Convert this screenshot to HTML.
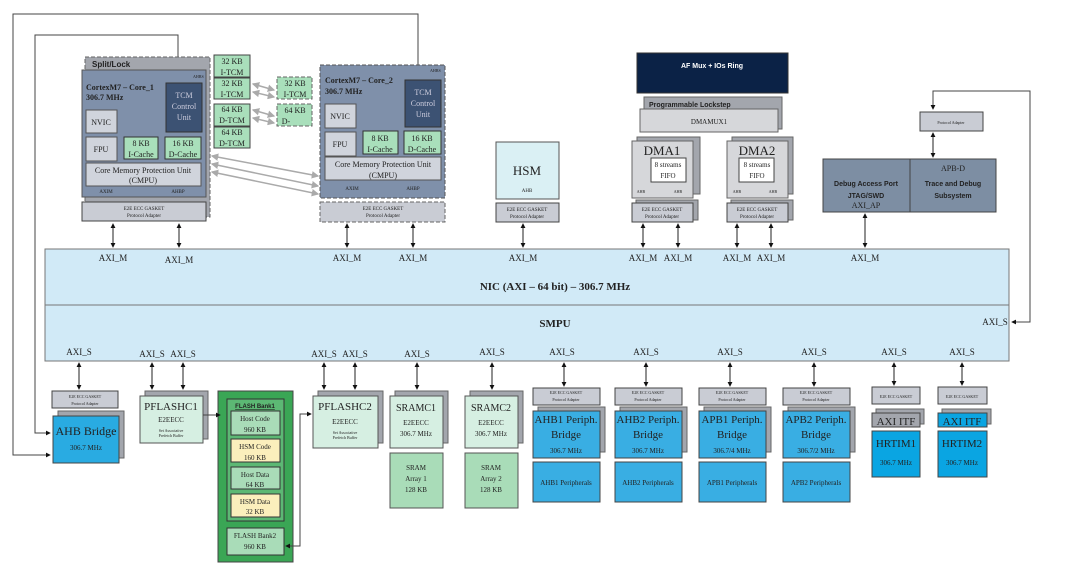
<!DOCTYPE html>
<html><head><meta charset="utf-8"><style>
html,body{margin:0;padding:0;background:#fff;width:1080px;height:576px;overflow:hidden}
svg text{font-family:"Liberation Serif",serif;fill:#222}
.s{font-family:"Liberation Sans",sans-serif !important;font-weight:bold}
</style></head><body>
<svg width="1080" height="576" viewBox="0 0 1080 576" xmlns="http://www.w3.org/2000/svg">
<defs>
<marker id="a" viewBox="0 0 6 6" refX="5" refY="3" markerWidth="5" markerHeight="5" orient="auto-start-reverse"><path d="M0,0L6,3L0,6z" fill="#111"/></marker>
<marker id="g" viewBox="0 0 6 6" refX="5" refY="3" markerWidth="5" markerHeight="5" orient="auto-start-reverse"><path d="M0,0L6,3L0,6z" fill="#aaa"/></marker>
</defs>
<g stroke="#555" stroke-width="1">
<polyline points="418,80 418,14 13,14 13,455 50,455" fill="none" marker-start="url(#a)" marker-end="url(#a)" stroke="#444"/>
<polyline points="178,81 178,35 35,35 35,433 50,433" fill="none" marker-start="url(#a)" marker-end="url(#a)" stroke="#444"/>
<polyline points="933,109 933,91 1030,91 1030,322 1012,322" fill="none" marker-start="url(#a)" marker-end="url(#a)" stroke="#444"/>

<rect x="45" y="249" width="964" height="112" fill="#d1eaf7" stroke="#777"/>
<line x1="45" y1="305" x2="1009" y2="305" stroke="#777"/>

<rect x="85" y="57" width="125" height="160" fill="#a3a6ad" stroke="#666" stroke-dasharray="4,2"/>
<rect x="82" y="70" width="124" height="127" fill="#7f90aa" stroke="#555"/>
<rect x="166" y="83" width="36" height="49" fill="#3c5273" stroke="#333"/>
<rect x="86" y="110" width="31" height="23" fill="#d0d4dc"/>
<rect x="86" y="137" width="31" height="24" fill="#d0d4dc"/>
<rect x="124" y="137" width="34" height="22" fill="#a9dfbb" stroke="#333"/>
<rect x="165" y="137" width="36" height="22" fill="#a9dfbb" stroke="#333"/>
<rect x="86" y="163" width="115" height="23" fill="#d0d4dc"/>
<rect x="82" y="202" width="124" height="19" fill="#c9ccd4" stroke="#444"/>

<rect x="214" y="55" width="36" height="22" fill="#a9dfbb" stroke="#444"/>
<rect x="214" y="78" width="36" height="21" fill="#a9dfbb" stroke="#444"/>
<rect x="214" y="104" width="36" height="22" fill="#a9dfbb" stroke="#444"/>
<rect x="214" y="127" width="36" height="21" fill="#a9dfbb" stroke="#444"/>
<rect x="277" y="77" width="35" height="22" fill="#a9dfbb" stroke="#666" stroke-dasharray="4,2"/>
<rect x="277" y="104" width="35" height="22" fill="#a9dfbb" stroke="#666" stroke-dasharray="4,2"/>
<g stroke="#aaa" stroke-width="1.5">
<line x1="253" y1="84" x2="274" y2="90" marker-start="url(#g)" marker-end="url(#g)"/>
<line x1="253" y1="92" x2="274" y2="97" marker-start="url(#g)" marker-end="url(#g)"/>
<line x1="253" y1="110" x2="274" y2="116" marker-start="url(#g)" marker-end="url(#g)"/>
<line x1="253" y1="118" x2="274" y2="123" marker-start="url(#g)" marker-end="url(#g)"/>
<line x1="212" y1="156" x2="318" y2="176" marker-start="url(#g)" marker-end="url(#g)"/>
<line x1="212" y1="164" x2="318" y2="186" marker-start="url(#g)" marker-end="url(#g)"/>
<line x1="212" y1="172" x2="318" y2="194" marker-start="url(#g)" marker-end="url(#g)"/>
</g>

<rect x="320" y="65" width="125" height="133" fill="#7f90aa" stroke="#555" stroke-dasharray="4,2"/>
<rect x="405" y="80" width="36" height="47" fill="#3c5273" stroke="#333"/>
<rect x="325" y="104" width="31" height="24" fill="#d0d4dc"/>
<rect x="325" y="132" width="31" height="24" fill="#d0d4dc"/>
<rect x="363" y="131" width="35" height="23" fill="#a9dfbb" stroke="#333"/>
<rect x="404" y="131" width="37" height="23" fill="#a9dfbb" stroke="#333"/>
<rect x="325" y="157" width="116" height="23" fill="#d0d4dc"/>
<rect x="320" y="202" width="125" height="20" fill="#c9ccd4" stroke="#666" stroke-dasharray="4,2"/>

<rect x="496" y="142" width="63" height="57" fill="#daf0f4" stroke="#555"/>
<rect x="496" y="203" width="63" height="19" fill="#c9ccd4" stroke="#444"/>

<rect x="637" y="53" width="151" height="40" fill="#0b2246" stroke="#333"/>
<rect x="644" y="97" width="138" height="32" fill="#a3a6ad" stroke="#666"/>
<rect x="640" y="109" width="138" height="23" fill="#d6d7da" stroke="#666"/>
<rect x="637" y="137" width="63" height="57" fill="#a3a6ad" stroke="#666"/>
<rect x="632" y="141" width="61" height="57" fill="#d6d7da" stroke="#666"/>
<rect x="651" y="158" width="35" height="24" fill="#fff" stroke="#444"/>
<rect x="636" y="200" width="62" height="20" fill="#a3a6ad" stroke="#666"/>
<rect x="632" y="203" width="61" height="19" fill="#c9ccd4" stroke="#444"/>
<rect x="732" y="137" width="61" height="57" fill="#a3a6ad" stroke="#666"/>
<rect x="727" y="141" width="61" height="57" fill="#d6d7da" stroke="#666"/>
<rect x="739" y="158" width="35" height="24" fill="#fff" stroke="#444"/>
<rect x="731" y="200" width="62" height="20" fill="#a3a6ad" stroke="#666"/>
<rect x="727" y="203" width="61" height="19" fill="#c9ccd4" stroke="#444"/>

<rect x="920" y="112" width="63" height="19" fill="#c9ccd4" stroke="#444"/>
<rect x="823" y="159" width="173" height="53" fill="#7d8ea3" stroke="#444"/>
<line x1="910" y1="159" x2="910" y2="212" stroke="#444"/>

<rect x="52" y="391" width="66" height="17" fill="#c9ccd4" stroke="#444"/>
<rect x="58" y="411" width="66" height="47" fill="#a3a6ad" stroke="#666"/>
<rect x="53" y="416" width="66" height="47" fill="#29abe2" stroke="#444"/>
<rect x="145" y="391" width="63" height="48" fill="#a3a6ad" stroke="#666"/>
<rect x="140" y="396" width="63" height="47" fill="#d6efe2" stroke="#555"/>
<rect x="218" y="391" width="75" height="171" fill="#3aa655" stroke="#444"/>
<rect x="227" y="399" width="57" height="122" fill="#5cb874" stroke="#333"/>
<rect x="231" y="411" width="49" height="24" fill="#a9dcb8" stroke="#333"/>
<rect x="231" y="439" width="49" height="23" fill="#fbefbc" stroke="#333"/>
<rect x="231" y="467" width="49" height="22" fill="#a9dcb8" stroke="#333"/>
<rect x="231" y="494" width="49" height="23" fill="#fbefbc" stroke="#333"/>
<rect x="227" y="528" width="57" height="27" fill="#a9dcb8" stroke="#333"/>
<polyline points="203,415 220,415" fill="none" marker-end="url(#a)" stroke="#444"/>
<polyline points="311,414 300,414 300,546 286,546" fill="none" marker-start="url(#a)" marker-end="url(#a)" stroke="#444"/>
<rect x="318" y="391" width="65" height="52" fill="#a3a6ad" stroke="#666"/>
<rect x="313" y="396" width="65" height="52" fill="#d6efe2" stroke="#555"/>
<rect x="395" y="391" width="53" height="52" fill="#a3a6ad" stroke="#666"/>
<rect x="390" y="396" width="53" height="52" fill="#d6efe2" stroke="#555"/>
<rect x="390" y="453" width="53" height="55" fill="#a9dcb8" stroke="#555"/>
<rect x="470" y="391" width="53" height="52" fill="#a3a6ad" stroke="#666"/>
<rect x="465" y="396" width="53" height="52" fill="#d6efe2" stroke="#555"/>
<rect x="465" y="453" width="53" height="55" fill="#a9dcb8" stroke="#555"/>

<g id="per">
<rect x="533" y="388" width="67" height="17" fill="#c9ccd4" stroke="#444"/>
<rect x="538" y="407" width="67" height="45" fill="#a3a6ad" stroke="#666"/>
<rect x="533" y="411" width="67" height="47" fill="#39aee3" stroke="#444"/>
<rect x="533" y="462" width="67" height="40" fill="#39aee3" stroke="#444"/>
</g>
<use href="#per" x="82"/><use href="#per" x="166"/><use href="#per" x="250"/>

<rect x="872" y="387" width="48" height="17" fill="#c9ccd4" stroke="#444"/>
<rect x="876" y="409" width="48" height="15" fill="#a3a6ad" stroke="#666"/>
<rect x="872" y="413" width="48" height="14" fill="#a3a6ad" stroke="#444"/>
<rect x="872" y="431" width="48" height="46" fill="#0aa5e2" stroke="#444"/>
<rect x="938" y="387" width="49" height="17" fill="#c9ccd4" stroke="#444"/>
<rect x="942" y="409" width="49" height="15" fill="#a3a6ad" stroke="#666"/>
<rect x="938" y="413" width="49" height="14" fill="#0aa5e2" stroke="#444"/>
<rect x="938" y="431" width="49" height="46" fill="#0aa5e2" stroke="#444"/>
</g>

<g stroke="#222" stroke-width="1">
<line x1="113" y1="224" x2="113" y2="247" marker-start="url(#a)" marker-end="url(#a)"/>
<line x1="179" y1="224" x2="179" y2="247" marker-start="url(#a)" marker-end="url(#a)"/>
<line x1="347" y1="224" x2="347" y2="247" marker-start="url(#a)" marker-end="url(#a)"/>
<line x1="413" y1="224" x2="413" y2="247" marker-start="url(#a)" marker-end="url(#a)"/>
<line x1="523" y1="224" x2="523" y2="247" marker-start="url(#a)" marker-end="url(#a)"/>
<line x1="643" y1="224" x2="643" y2="247" marker-start="url(#a)" marker-end="url(#a)"/>
<line x1="678" y1="224" x2="678" y2="247" marker-start="url(#a)" marker-end="url(#a)"/>
<line x1="737" y1="224" x2="737" y2="247" marker-start="url(#a)" marker-end="url(#a)"/>
<line x1="771" y1="224" x2="771" y2="247" marker-start="url(#a)" marker-end="url(#a)"/>
<line x1="865" y1="214" x2="865" y2="247" marker-start="url(#a)" marker-end="url(#a)"/>
<line x1="933" y1="133" x2="933" y2="157" marker-start="url(#a)" marker-end="url(#a)"/>
<line x1="79" y1="363" x2="79" y2="389" marker-start="url(#a)" marker-end="url(#a)"/>
<line x1="152" y1="363" x2="152" y2="389" marker-start="url(#a)" marker-end="url(#a)"/>
<line x1="183" y1="363" x2="183" y2="389" marker-start="url(#a)" marker-end="url(#a)"/>
<line x1="324" y1="363" x2="324" y2="389" marker-start="url(#a)" marker-end="url(#a)"/>
<line x1="355" y1="363" x2="355" y2="389" marker-start="url(#a)" marker-end="url(#a)"/>
<line x1="417" y1="363" x2="417" y2="389" marker-start="url(#a)" marker-end="url(#a)"/>
<line x1="492" y1="363" x2="492" y2="389" marker-start="url(#a)" marker-end="url(#a)"/>
<line x1="564" y1="363" x2="564" y2="386" marker-start="url(#a)" marker-end="url(#a)"/>
<line x1="646" y1="363" x2="646" y2="386" marker-start="url(#a)" marker-end="url(#a)"/>
<line x1="730" y1="363" x2="730" y2="386" marker-start="url(#a)" marker-end="url(#a)"/>
<line x1="814" y1="363" x2="814" y2="386" marker-start="url(#a)" marker-end="url(#a)"/>
<line x1="894" y1="363" x2="894" y2="385" marker-start="url(#a)" marker-end="url(#a)"/>
<line x1="962" y1="363" x2="962" y2="385" marker-start="url(#a)" marker-end="url(#a)"/>
</g>

<g font-size="9" text-anchor="middle">
<text x="113" y="261">AXI_M</text><text x="179" y="263">AXI_M</text><text x="347" y="261">AXI_M</text><text x="413" y="261">AXI_M</text>
<text x="523" y="261">AXI_M</text><text x="643" y="261">AXI_M</text><text x="678" y="261">AXI_M</text><text x="737" y="261">AXI_M</text><text x="771" y="261">AXI_M</text><text x="865" y="261">AXI_M</text>
<text x="79" y="355">AXI_S</text><text x="152" y="357">AXI_S</text><text x="183" y="357">AXI_S</text><text x="324" y="357">AXI_S</text><text x="355" y="357">AXI_S</text><text x="417" y="357">AXI_S</text><text x="492" y="355">AXI_S</text>
<text x="562" y="355">AXI_S</text><text x="646" y="355">AXI_S</text><text x="730" y="355">AXI_S</text><text x="814" y="355">AXI_S</text><text x="894" y="355">AXI_S</text><text x="962" y="355">AXI_S</text>
<text x="995" y="325">AXI_S</text>
</g>
<text x="555" y="290" font-size="11" font-weight="bold" text-anchor="middle">NIC (AXI – 64 bit) – 306.7 MHz</text>
<text x="555" y="327" font-size="11" font-weight="bold" text-anchor="middle">SMPU</text>

<text class="s" x="92" y="67" font-size="8">Split/Lock</text>
<text x="86" y="90" font-size="8" font-weight="bold">CortexM7 – Core_1</text>
<text x="86" y="100" font-size="8" font-weight="bold">306.7 MHz</text>
<text x="193" y="78" font-size="4">AHBS</text>
<g font-size="8" text-anchor="middle">
<text x="184" y="98" style="fill:#ccd">TCM</text><text x="184" y="109" style="fill:#ccd">Control</text><text x="184" y="120" style="fill:#ccd">Unit</text>
<text x="423" y="95" style="fill:#ccd">TCM</text><text x="423" y="106" style="fill:#ccd">Control</text><text x="423" y="117" style="fill:#ccd">Unit</text>
</g>
<g font-size="8" text-anchor="middle">
<text x="101" y="125">NVIC</text><text x="101" y="152">FPU</text>
<text x="141" y="146">8 KB</text><text x="141" y="157">I-Cache</text>
<text x="183" y="146">16 KB</text><text x="183" y="157">D-Cache</text>
<text x="143" y="173">Core Memory Protection Unit</text><text x="143" y="183">(CMPU)</text>
<text x="106" y="193" font-size="5">AXIM</text><text x="178" y="193" font-size="5">AHBP</text>
<text x="144" y="210" font-size="5">E2E ECC GASKET</text><text x="144" y="217" font-size="5">Protocol Adapter</text>
<text x="232" y="64">32 KB</text><text x="232" y="75">I-TCM</text>
<text x="232" y="86">32 KB</text><text x="232" y="97">I-TCM</text>
<text x="232" y="112">64 KB</text><text x="232" y="123">D-TCM</text>
<text x="232" y="135">64 KB</text><text x="232" y="146">D-TCM</text>
<text x="295" y="86">32 KB</text><text x="295" y="97">I-TCM</text>
<text x="295" y="113">64 KB</text><text x="286" y="124">D-</text>
<text x="340" y="119">NVIC</text><text x="340" y="147">FPU</text>
<text x="380" y="141">8 KB</text><text x="380" y="152">I-Cache</text>
<text x="422" y="141">16 KB</text><text x="422" y="152">D-Cache</text>
<text x="383" y="167">Core Memory Protection Unit</text><text x="383" y="178">(CMPU)</text>
<text x="352" y="190" font-size="5">AXIM</text><text x="413" y="190" font-size="5">AHBP</text>
<text x="383" y="210" font-size="5">E2E ECC GASKET</text><text x="383" y="217" font-size="5">Protocol Adapter</text>
</g>
<text x="325" y="83" font-size="8" font-weight="bold">CortexM7 – Core_2</text>
<text x="325" y="94" font-size="8" font-weight="bold">306.7 MHz</text>
<text x="430" y="72" font-size="4">AHBS</text>

<text class="s" x="649" y="107" font-size="7">Programmable Lockstep</text>

<g text-anchor="middle">
<text x="527" y="175" font-size="13">HSM</text><text x="527" y="192" font-size="5">AHB</text>
<text x="527" y="211" font-size="5">E2E ECC GASKET</text><text x="527" y="218" font-size="5">Protocol Adapter</text>
<text class="s" x="712" y="68" font-size="7" style="fill:#fff">AF Mux + IOs Ring</text>
<text x="709" y="124" font-size="7">DMAMUX1</text>
<text x="662" y="155" font-size="13">DMA1</text><text x="668" y="167" font-size="7">8 streams</text><text x="668" y="178" font-size="7">FIFO</text>
<text x="641" y="193" font-size="4">AHB</text><text x="678" y="193" font-size="4">AHB</text>
<text x="662" y="211" font-size="5">E2E ECC GASKET</text><text x="662" y="218" font-size="5">Protocol Adapter</text>
<text x="757" y="155" font-size="13">DMA2</text><text x="757" y="167" font-size="7">8 streams</text><text x="757" y="178" font-size="7">FIFO</text>
<text x="737" y="193" font-size="4">AHB</text><text x="773" y="193" font-size="4">AHB</text>
<text x="757" y="211" font-size="5">E2E ECC GASKET</text><text x="757" y="218" font-size="5">Protocol Adapter</text>
<text x="951" y="124" font-size="4">Protocol Adapter</text>
<text class="s" x="866" y="186" font-size="7">Debug Access Port</text>
<text class="s" x="866" y="198" font-size="7">JTAG/SWD</text>
<text x="866" y="208" font-size="8">AXI_AP</text>
<text x="953" y="171" font-size="8">APB-D</text>
<text class="s" x="953" y="186" font-size="7">Trace and Debug</text>
<text class="s" x="953" y="198" font-size="7">Subsystem</text>

<text x="85" y="398" font-size="4">E2E ECC GASKET</text><text x="85" y="405" font-size="4">Protocol Adapter</text>
<text x="86" y="435" font-size="12">AHB Bridge</text><text x="86" y="450" font-size="7">306.7 MHz</text>
<text x="171" y="410" font-size="11">PFLASHC1</text><text x="171" y="422" font-size="7">E2EECC</text>
<text x="171" y="432" font-size="4">Set Associative</text><text x="171" y="437" font-size="4">Prefetch Buffer</text>
<text class="s" x="255" y="408" font-size="6" style="text-decoration:underline">FLASH Bank1</text>
<text x="255" y="421" font-size="7">Host Code</text><text x="255" y="432" font-size="7">960 KB</text>
<text x="255" y="449" font-size="7">HSM Code</text><text x="255" y="460" font-size="7">160 KB</text>
<text x="255" y="477" font-size="7">Host Data</text><text x="255" y="487" font-size="7">64 KB</text>
<text x="255" y="504" font-size="7">HSM Data</text><text x="255" y="514" font-size="7">32 KB</text>
<text x="255" y="538" font-size="7">FLASH Bank2</text><text x="255" y="549" font-size="7">960 KB</text>
<text x="345" y="410" font-size="11">PFLASHC2</text><text x="345" y="424" font-size="7">E2EECC</text>
<text x="345" y="434" font-size="4">Set Associative</text><text x="345" y="439" font-size="4">Prefetch Buffer</text>
<text x="416" y="411" font-size="10">SRAMC1</text><text x="416" y="425" font-size="7">E2EECC</text><text x="416" y="436" font-size="7">306.7 MHz</text>
<text x="416" y="470" font-size="7">SRAM</text><text x="416" y="481" font-size="7">Array 1</text><text x="416" y="492" font-size="7">128 KB</text>
<text x="491" y="411" font-size="10">SRAMC2</text><text x="491" y="425" font-size="7">E2EECC</text><text x="491" y="436" font-size="7">306.7 MHz</text>
<text x="491" y="470" font-size="7">SRAM</text><text x="491" y="481" font-size="7">Array 2</text><text x="491" y="492" font-size="7">128 KB</text>
</g>
<g text-anchor="middle">
<g font-size="4"><text x="566" y="394">E2E ECC GASKET</text><text x="566" y="401">Protocol Adapter</text>
<text x="648" y="394">E2E ECC GASKET</text><text x="648" y="401">Protocol Adapter</text>
<text x="732" y="394">E2E ECC GASKET</text><text x="732" y="401">Protocol Adapter</text>
<text x="816" y="394">E2E ECC GASKET</text><text x="816" y="401">Protocol Adapter</text>
<text x="896" y="398">E2E ECC GASKET</text><text x="962" y="398">E2E ECC GASKET</text></g>
<g font-size="11"><text x="566" y="423">AHB1 Periph.</text><text x="566" y="438">Bridge</text>
<text x="648" y="423">AHB2 Periph.</text><text x="648" y="438">Bridge</text>
<text x="732" y="423">APB1 Periph.</text><text x="732" y="438">Bridge</text>
<text x="816" y="423">APB2 Periph.</text><text x="816" y="438">Bridge</text>
<text x="896" y="425">AXI ITF</text><text x="962" y="425">AXI ITF</text>
<text x="896" y="447">HRTIM1</text><text x="962" y="447">HRTIM2</text></g>
<g font-size="7"><text x="566" y="453">306.7 MHz</text><text x="648" y="453">306.7 MHz</text><text x="732" y="453">306.7/4 MHz</text><text x="816" y="453">306.7/2 MHz</text>
<text x="896" y="465">306.7 MHz</text><text x="962" y="465">306.7 MHz</text>
<text x="566" y="485">AHB1 Peripherals</text><text x="648" y="485">AHB2 Peripherals</text><text x="732" y="485">APB1 Peripherals</text><text x="816" y="485">APB2 Peripherals</text></g>
</g>
</svg>
</body></html>
